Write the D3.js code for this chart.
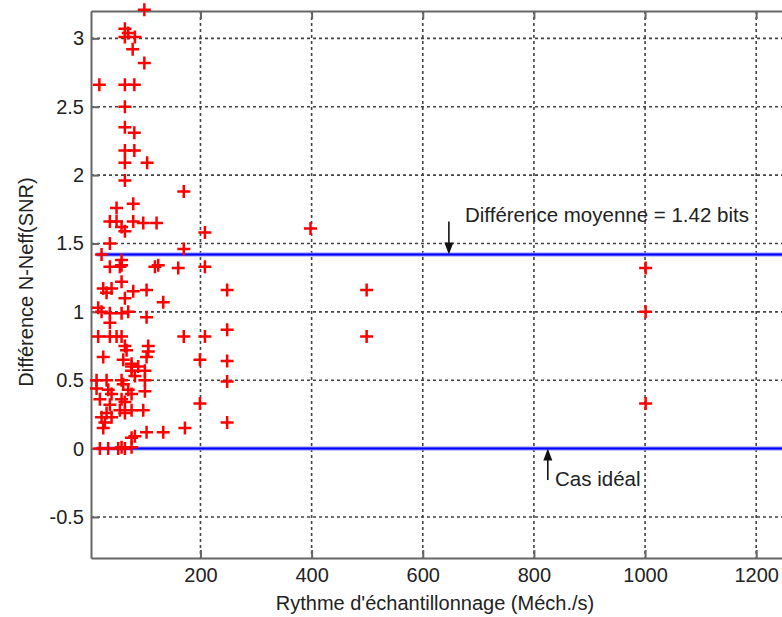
<!DOCTYPE html>
<html>
<head>
	<meta charset="utf-8">
	<script src="https://cdnjs.cloudflare.com/ajax/libs/d3/7.8.5/d3.min.js"></script>
	<style>
		body { margin: 0; background: #fff; }
		text { font-family: "Liberation Sans", Arial, sans-serif; fill: #222; }
		.grid line { stroke: #444; stroke-width: 1.6; stroke-dasharray: 3,3; }
		.axis path, .axis line { stroke: #666; stroke-width: 2; }
	</style>
</head>
<body>
	<svg width="782" height="617" id="chart"></svg>

	<script>
	//sample rate (Méch./s) of each converter
	var sampleRate = [
		99, 64, 70, 64, 82, 78, 99, 18, 64, 81, 64, 64, 81, 64, 81, 64, 104, 64, 170, 49, 79,
		37, 49, 79, 97, 121, 58, 64, 208, 398, 37, 170, 22, 58, 37, 55, 58, 118, 124, 160, 208,
		58, 25, 40, 31, 79, 103, 248, 499, 64, 133, 16, 22, 37, 58, 70, 103, 37, 1001, 1001, 1001,
		16, 37, 49, 58, 170, 208, 248, 499, 64, 67, 106, 106, 103, 25, 61, 76, 199, 248, 76, 88,
		76, 100, 13, 31, 58, 61, 82, 100, 248, 34, 40, 13, 70, 76, 100, 199, 19, 37, 58, 64,
		31, 40, 22, 76, 97, 55, 64, 28, 25, 103, 133, 172, 248, 76, 82, 19, 34, 52, 58, 64, 76
	];
	//difference N - Neff(SNR) in bits
	var diffBits = [
		3.21, 3.07, 3.04, 3.01, 3.01, 2.92, 2.82, 2.66, 2.66, 2.66, 2.50, 2.35, 2.31, 2.18, 2.18, 2.09, 2.09, 1.96, 1.88, 1.76, 1.79,
		1.66, 1.66, 1.66, 1.65, 1.65, 1.62, 1.59, 1.58, 1.61, 1.50, 1.46, 1.42, 1.38, 1.33, 1.33, 1.34, 1.33, 1.34, 1.32, 1.33,
		1.22, 1.17, 1.17, 1.14, 1.15, 1.16, 1.16, 1.16, 1.10, 1.07, 1.03, 1.00, 0.99, 0.99, 1.00, 0.96, 0.92, 1.00, 1.32, 0.33,
		0.82, 0.82, 0.82, 0.82, 0.82, 0.82, 0.87, 0.82, 0.75, 0.72, 0.75, 0.71, 0.67, 0.67, 0.65, 0.62, 0.65, 0.64, 0.60, 0.60,
		0.57, 0.57, 0.50, 0.50, 0.50, 0.47, 0.53, 0.50, 0.49, 0.43, 0.40, 0.44, 0.43, 0.40, 0.42, 0.33, 0.36, 0.32, 0.36, 0.34,
		0.26, 0.23, 0.23, 0.28, 0.28, 0.28, 0.26, 0.19, 0.15, 0.12, 0.12, 0.15, 0.19, 0.08, 0.09, 0, 0, 0, 0.01, 0, 0.01
	];

	var meanDiff = 1.42,
		idealDiff = 0;

	var xTicks = [200, 400, 600, 800, 1000, 1200],
		yTicks = [-0.5, 0, 0.5, 1, 1.5, 2, 2.5, 3];

	var svg = d3.select("svg");

	//plot area (right edge runs past the picture)
	var plotLeft = 91, plotTop = 11, plotBottom = 558, plotRight = 784;

	var x = d3.scaleLinear().domain([3, 1250]).range([plotLeft, plotRight]),
		y = d3.scaleLinear().domain([-0.8, 3.2]).range([plotBottom, plotTop]);

	svg.append("rect").attr("width", 782).attr("height", 617).attr("fill", "#fff");

	//dotted grid
	var grid = svg.append("g").attr("class", "grid");
	grid.selectAll(".vx").data(xTicks).enter().append("line")
		.attr("x1", function(d) { return x(d); })
		.attr("x2", function(d) { return x(d); })
		.attr("y1", plotTop).attr("y2", plotBottom);
	grid.selectAll(".hy").data(yTicks).enter().append("line")
		.attr("x1", plotLeft).attr("x2", plotRight)
		.attr("y1", function(d) { return y(d); })
		.attr("y2", function(d) { return y(d); });

	//axes, ticks pointing inside
	svg.append("g")
		.attr("class", "axis")
		.attr("transform", "translate(0," + plotBottom + ")")
		.call(d3.axisBottom(x).tickValues(xTicks).tickSizeInner(-8).tickSizeOuter(0).tickPadding(10)
			.tickFormat(function(d) { return String(d); }));
	svg.append("g")
		.attr("class", "axis")
		.attr("transform", "translate(" + plotLeft + ",0)")
		.call(d3.axisLeft(y).tickValues(yTicks).tickSizeInner(-8).tickSizeOuter(0).tickPadding(7)
			.tickFormat(function(d) { return String(d); }));
	svg.append("g")
		.attr("class", "axis")
		.attr("transform", "translate(0," + plotTop + ")")
		.call(d3.axisTop(x).tickValues(xTicks).tickSizeInner(-8).tickSizeOuter(0).tickFormat(""));

	svg.selectAll(".axis text")
		.style("font-size", "20px")
		.attr("fill", "#222");

	//horizontal reference lines
	var xMin = d3.min(sampleRate);
	[meanDiff, idealDiff].forEach(function(v) {
		svg.append("line")
			.attr("x1", x(xMin)).attr("x2", plotRight)
			.attr("y1", y(v)).attr("y2", y(v))
			.attr("stroke", "#8c8cff").attr("stroke-width", 4);
		svg.append("line")
			.attr("x1", x(xMin)).attr("x2", plotRight)
			.attr("y1", y(v)).attr("y2", y(v))
			.attr("stroke", "#0000ff").attr("stroke-width", 2);
	});

	//measured points as "+" markers
	svg.append("g").selectAll("path")
		.data(d3.zip(sampleRate, diffBits))
		.enter().append("path")
		.attr("transform", function(d) { return "translate(" + x(d[0]) + "," + y(d[1]) + ")"; })
		.attr("d", "M-6.5,0H6.5M0,-6.5V6.5")
		.attr("stroke", "#ff0000")
		.attr("stroke-width", 2.5)
		.attr("fill", "none");

	//annotation arrows
	function arrow(xv, fromY, toY) {
		var x0 = x(xv), y0 = y(fromY), y1 = y(toY), dir = y1 > y0 ? 1 : -1;
		svg.append("line")
			.attr("x1", x0).attr("x2", x0)
			.attr("y1", y0).attr("y2", y1 - dir * 10)
			.attr("stroke", "#111").attr("stroke-width", 1.6);
		svg.append("path")
			.attr("d", "M" + x0 + "," + y1 + "L" + (x0 - 4.5) + "," + (y1 - dir * 12) + "L" + (x0 + 4.5) + "," + (y1 - dir * 12) + "Z")
			.attr("fill", "#111");
	}
	arrow(647, 1.66, meanDiff);
	arrow(825, -0.23, idealDiff);

	svg.append("text")
		.attr("x", x(676)).attr("y", y(1.66))
		.style("font-size", "20.5px")
		.text("Différence moyenne = 1.42 bits");
	svg.append("text")
		.attr("x", x(838)).attr("y", y(-0.27))
		.style("font-size", "20.5px")
		.text("Cas idéal");

	//axis titles
	svg.append("text")
		.attr("x", 435).attr("y", 610)
		.attr("text-anchor", "middle")
		.style("font-size", "20px")
		.text("Rythme d'échantillonnage (Méch./s)");
	svg.append("text")
		.attr("transform", "translate(33,282) rotate(-90)")
		.attr("text-anchor", "middle")
		.style("font-size", "20px")
		.text("Différence N-Neff(SNR)");
	</script>
</body>
</html>
